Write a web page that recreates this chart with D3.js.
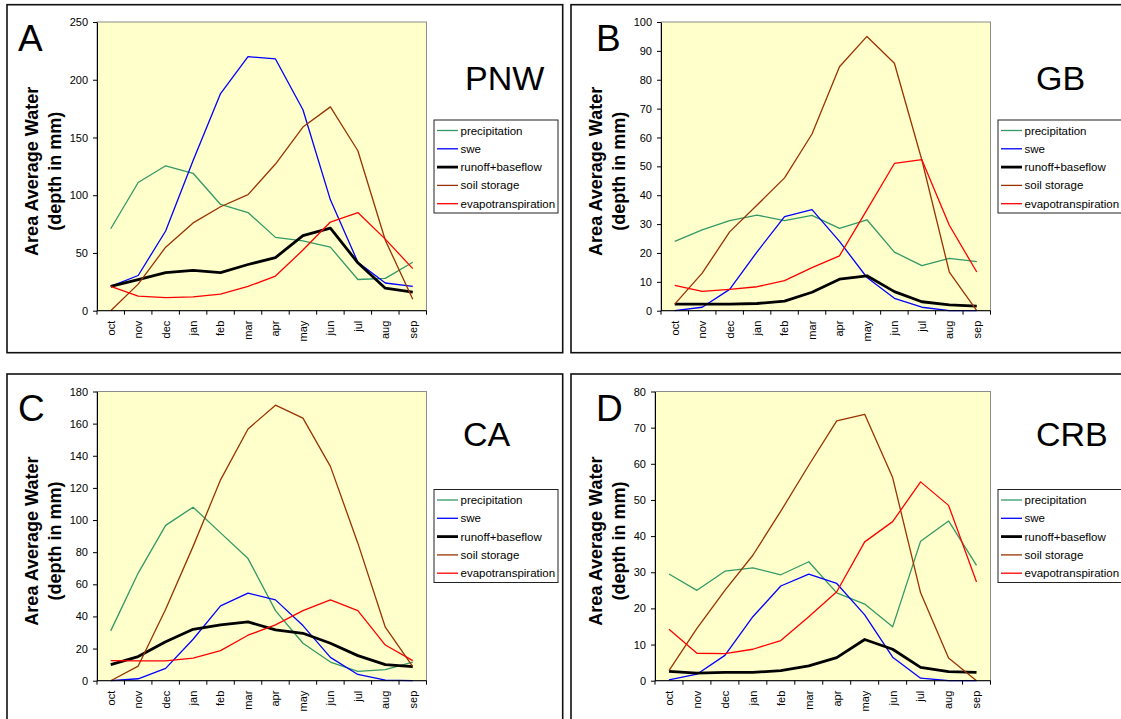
<!DOCTYPE html>
<html>
<head>
<meta charset="utf-8">
<script src="https://cdn.jsdelivr.net/npm/d3@7"></script>
<style>
  html, body { margin: 0; padding: 0; background: #fff; }
  svg { display: block; font-family: "Liberation Sans", Arial, sans-serif; }
</style>
</head>
<body>
<svg id="chart" width="1121" height="719"></svg>
<script>
// Water year months
const months = ["oct", "nov", "dec", "jan", "feb", "mar", "apr", "may", "jun", "jul", "aug", "sep"];
const seriesNames = ["precipitation", "swe", "runoff+baseflow", "soil storage", "evapotranspiration"];

// Pacific Northwest (mm)
const pnwPrecip  = [71, 111, 125.5, 119, 92, 85, 63.5, 60.5, 55, 27, 28, 42];
const pnwSwe     = [21, 30.5, 69, 130, 188, 220, 218, 174, 96, 42, 24, 21];
const pnwRunoff  = [21, 27, 33, 35, 33, 40, 46, 65, 71.5, 41.5, 19.5, 16];
const pnwSoil    = [0, 23, 55, 76, 90, 100.5, 127, 159, 176.5, 138.5, 61, 10];
const pnwEt      = [21, 12.7, 11.3, 12, 14.4, 21, 30, 52.5, 76.8, 85, 62, 36.4];

// Great Basin (mm)
const gbPrecip   = [24, 28, 31.2, 33.1, 31.2, 33, 28.5, 31.5, 20.3, 15.6, 18.1, 17];
const gbSwe      = [0, 1.2, 7.4, 20.4, 32.6, 35, 24, 11.5, 4.3, 1.2, 0, 0];
const gbRunoff   = [2.3, 2.3, 2.3, 2.5, 3.3, 6.4, 10.9, 12.1, 6.6, 3.1, 2, 1.6];
const gbSoil     = [2.3, 13, 27.3, 36.6, 46, 61.2, 84.5, 95, 85.7, 52.2, 13.4, 0];
const gbEt       = [8.8, 6.7, 7.4, 8.3, 10.4, 14.9, 19, 34.9, 51, 52.3, 29.6, 13.4];

// California (mm)
const caPrecip   = [31, 67, 96.7, 108, 92, 76, 43.6, 23.3, 11.6, 5.8, 6.9, 11.6];
const caSwe      = [0, 1.2, 7.7, 25.8, 46.6, 54.5, 50.3, 34.3, 14.5, 3.9, 0.4, 0];
const caRunoff   = [10, 15, 24.3, 32, 34.7, 36.6, 31.6, 29.5, 23.3, 15.6, 10, 8.7];
const caSoil     = [0, 9.1, 44.5, 83.6, 125, 156.7, 171.5, 163.4, 133.4, 85.6, 33.3, 8.7];
const caEt       = [12.5, 12.3, 12.3, 14.1, 18.7, 28.3, 34.7, 43.6, 50.3, 43.6, 22.2, 12.5];

// Colorado River Basin (mm)
const crbPrecip  = [29.5, 25, 30.3, 31.2, 29.3, 32.9, 24.3, 21.2, 14.9, 38.6, 44.2, 31.9];
const crbSwe     = [0.2, 1.8, 7, 17.7, 26.2, 29.5, 26.9, 18.2, 6.5, 0.7, 0, 0];
const crbRunoff  = [2.6, 2.1, 2.3, 2.3, 2.8, 4.1, 6.4, 11.4, 8.7, 3.7, 2.5, 2.3];
const crbSoil    = [2.8, 14.5, 25, 34.7, 46.9, 59.6, 71.9, 73.7, 56.2, 24.3, 6.3, 0];
const crbEt      = [14.2, 7.6, 7.5, 8.7, 11.1, 17.7, 24.6, 38.4, 44, 55, 48.5, 27.3];

// Y-axis tick values per panel
const pnwTicks = [0, 50, 100, 150, 200, 250];
const gbTicks  = [0, 10, 20, 30, 40, 50, 60, 70, 80, 90, 100];
const caTicks  = [0, 20, 40, 60, 80, 100, 120, 140, 160, 180];
const crbTicks = [0, 10, 20, 30, 40, 50, 60, 70, 80];

// Line styles per series
const seriesColors = ["#339966", "#0000ff", "#000000", "#993300", "#ff0000"];
const seriesWidths = [1.3, 1.3, 2.8, 1.3, 1.3];

const panels = [
  { letter: "A", region: "PNW", ticks: pnwTicks, series: [pnwPrecip, pnwSwe, pnwRunoff, pnwSoil, pnwEt],
    fx: 7, fy: 4.7, px0: 97, px1: 426.5, py0: 22, py1: 310.7, lx: 18, ly: 51, rx: 465, ry: 89.5 },
  { letter: "B", region: "GB", ticks: gbTicks, series: [gbPrecip, gbSwe, gbRunoff, gbSoil, gbEt],
    fx: 571, fy: 4.7, px0: 661, px1: 990.5, py0: 22, py1: 310.7, lx: 596, ly: 51, rx: 1036, ry: 89.5 },
  { letter: "C", region: "CA", ticks: caTicks, series: [caPrecip, caSwe, caRunoff, caSoil, caEt],
    fx: 7, fy: 374, px0: 97, px1: 426.5, py0: 391.5, py1: 680.7, lx: 18, ly: 420.5, rx: 463, ry: 445.5 },
  { letter: "D", region: "CRB", ticks: crbTicks, series: [crbPrecip, crbSwe, crbRunoff, crbSoil, crbEt],
    fx: 571, fy: 374, px0: 655, px1: 990.5, py0: 391.5, py1: 680.7, lx: 596, ly: 420.5, rx: 1036, ry: 445.5 }
];

const svg = d3.select("#chart");

panels.forEach(p => {
  const g = svg.append("g");

  // Panel frame
  g.append("rect")
    .attr("x", p.fx).attr("y", p.fy)
    .attr("width", 555.7).attr("height", 348)
    .attr("fill", "#fff").attr("stroke", "#111").attr("stroke-width", 1.6);

  const x = d3.scaleBand().domain(months).range([p.px0, p.px1]);
  const y = d3.scaleLinear().domain([0, d3.max(p.ticks)]).range([p.py1, p.py0]);

  // Plot area
  g.append("rect")
    .attr("x", p.px0).attr("y", p.py0)
    .attr("width", p.px1 - p.px0).attr("height", p.py1 - p.py0)
    .attr("fill", "#ffffcc").attr("stroke", "#8c8c8c").attr("stroke-width", 1);

  // Series lines
  const line = d3.line()
    .x((d, i) => x(months[i]) + x.bandwidth() / 2)
    .y(d => y(d));
  p.series.forEach((vals, si) => {
    g.append("path")
      .datum(vals)
      .attr("d", line)
      .attr("fill", "none")
      .attr("stroke", seriesColors[si])
      .attr("stroke-width", seriesWidths[si])
      .attr("stroke-linejoin", "round");
  });

  // Y axis
  const yAxis = g.append("g")
    .attr("transform", `translate(${p.px0},0)`)
    .call(d3.axisLeft(y).tickValues(p.ticks).tickSize(4).tickSizeOuter(0).tickPadding(5));
  yAxis.selectAll("text").attr("font-size", 11).attr("fill", "#000")
    .attr("font-family", "Liberation Sans, Arial, sans-serif");
  yAxis.selectAll("line, path").attr("stroke", "#000");

  // X axis: ticks on the band boundaries, labels rotated
  const xAxis = g.append("g").attr("transform", `translate(0,${p.py1})`);
  xAxis.append("line")
    .attr("x1", p.px0).attr("x2", p.px1)
    .attr("y1", 0).attr("y2", 0).attr("stroke", "#000");
  const bounds = months.map(m => x(m)).concat([p.px1]);
  xAxis.selectAll("line.tick").data(bounds).join("line")
    .attr("class", "tick")
    .attr("x1", d => d).attr("x2", d => d)
    .attr("y1", 0).attr("y2", 4).attr("stroke", "#000");
  xAxis.selectAll("text").data(months).join("text")
    .attr("transform", d => `translate(${x(d) + x.bandwidth() / 2},10) rotate(-90)`)
    .attr("text-anchor", "end")
    .attr("dy", "0.35em")
    .attr("font-size", 11)
    .text(d => d);

  // Y axis title
  const cy = (p.py0 + p.py1) / 2 + 5;
  const tx = p.fx + 24;
  g.append("text")
    .attr("transform", `translate(${tx + 6.5},${cy}) rotate(-90)`)
    .attr("text-anchor", "middle").attr("font-size", 18).attr("font-weight", "bold")
    .text("Area Average Water");
  g.append("text")
    .attr("transform", `translate(${tx + 30},${cy}) rotate(-90)`)
    .attr("text-anchor", "middle").attr("font-size", 18).attr("font-weight", "bold")
    .text("(depth in mm)");

  // Panel letter and region label
  g.append("text").attr("x", p.lx).attr("y", p.ly)
    .attr("font-size", 37).text(p.letter);
  g.append("text").attr("x", p.rx).attr("y", p.ry)
    .attr("font-size", 34).text(p.region);

  // Legend
  const lgx = p.px1 + 7.5, lgy = p.py0 + 98;
  const lg = g.append("g").attr("transform", `translate(${lgx},${lgy})`);
  lg.append("rect").attr("x", 0).attr("y", 0).attr("width", 124).attr("height", 93)
    .attr("fill", "#fff").attr("stroke", "#222").attr("stroke-width", 1);
  seriesNames.forEach((name, si) => {
    const yy = 10.5 + si * 18.3;
    lg.append("line")
      .attr("x1", 3).attr("x2", 24).attr("y1", yy).attr("y2", yy)
      .attr("stroke", seriesColors[si]).attr("stroke-width", seriesWidths[si]);
    lg.append("text").attr("x", 26.5).attr("y", yy).attr("dy", "0.35em")
      .attr("font-size", 11.5).text(name);
  });
});
</script>
</body>
</html>
